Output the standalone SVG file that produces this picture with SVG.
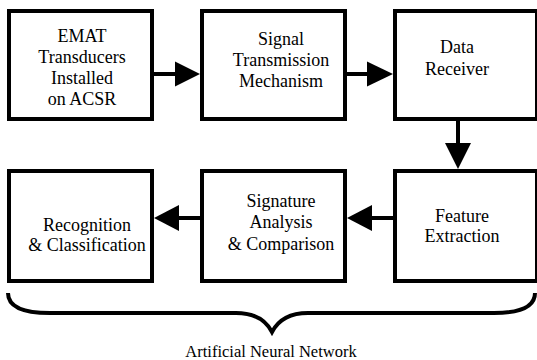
<svg xmlns="http://www.w3.org/2000/svg" width="537" height="360" viewBox="0 0 537 360">
<style>
.box{fill:#fff;stroke:#000;stroke-width:4}
.line{stroke:#000;stroke-width:4;fill:none}
.head{fill:#000;stroke:none}
.lbl{font-family:'Liberation Serif','Times New Roman',serif;font-size:18px;text-anchor:middle;fill:#000}
.cap{font-family:'Liberation Serif','Times New Roman',serif;font-size:16.5px;text-anchor:middle;fill:#000}
</style>
<rect width="537" height="360" fill="#fff"/>
<g id="n1">
<rect class="box" x="9" y="11" width="143" height="108"/>
<text class="lbl" x="82" y="42">EMAT</text>
<text class="lbl" x="82" y="63">Transducers</text>
<text class="lbl" x="82" y="84">Installed</text>
<text class="lbl" x="82" y="105">on ACSR</text>
</g>
<g id="n2">
<rect class="box" x="202" y="11" width="143" height="108"/>
<text class="lbl" x="281" y="45">Signal</text>
<text class="lbl" x="281" y="66">Transmission</text>
<text class="lbl" x="281" y="87">Mechanism</text>
</g>
<g id="n3">
<rect class="box" x="395" y="11" width="142" height="108"/>
<text class="lbl" x="457" y="53">Data</text>
<text class="lbl" x="457" y="75">Receiver</text>
</g>
<g id="n4">
<rect class="box" x="9" y="171" width="143" height="110"/>
<text class="lbl" x="87" y="231">Recognition</text>
<text class="lbl" x="87" y="251">&amp; Classification</text>
</g>
<g id="n5">
<rect class="box" x="202" y="171" width="143" height="110"/>
<text class="lbl" x="281" y="207">Signature</text>
<text class="lbl" x="281" y="228">Analysis</text>
<text class="lbl" x="281" y="250">&amp; Comparison</text>
</g>
<g id="n6">
<rect class="box" x="395" y="171" width="142" height="110"/>
<text class="lbl" x="462" y="222">Feature</text>
<text class="lbl" x="462" y="242">Extraction</text>
</g>
<g id="connectors">
<line class="line" x1="154" y1="74" x2="177" y2="74"/>
<polygon class="head" points="175,61.5 200,74 175,86.5"/>
<line class="line" x1="347" y1="74" x2="369" y2="74"/>
<polygon class="head" points="367,61.5 393,74 367,86.5"/>
<line class="line" x1="458" y1="121" x2="458" y2="145"/>
<polygon class="head" points="445,143 458,169 471,143"/>
<line class="line" x1="393" y1="218" x2="370" y2="218"/>
<polygon class="head" points="372,205 347,218 372,231"/>
<line class="line" x1="200" y1="218" x2="177" y2="218"/>
<polygon class="head" points="179,205 154,218 179,231"/>
</g>
<g id="brace">
<path class="line" d="M8 293 Q8 313 50 313 L236 313 Q262 313 272 332 Q282 313 308 313 L494 313 Q535 313 535 293"/>
<text class="cap" x="271" y="357">Artificial Neural Network</text>
</g>
</svg>
